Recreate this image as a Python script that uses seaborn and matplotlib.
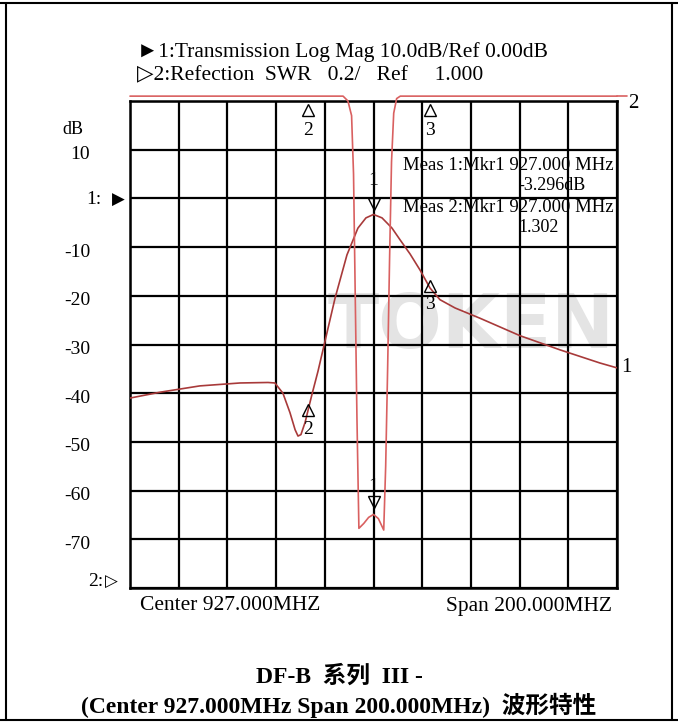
import matplotlib
matplotlib.use("Agg")
import numpy as np
import pandas as pd
import seaborn as sns
import matplotlib.pyplot as plt

# ---------------- data ----------------
# Trace 1: Transmission, Log Mag (dB)
t1_freq = [827.0, 839.3, 855.7, 872.2, 883.7, 886.5, 889.8, 892.7, 894.8, 896.0,
           897.2, 898.9, 901.7, 904.2, 906.3, 911.2, 916.1, 920.6, 923.9, 927.0,
           930.5, 934.6, 937.9, 942.0, 946.1, 950.2, 954.3, 960.5, 970.7, 987.2,
           1003.6, 1020.0, 1027.0]
t1_db = [-41.0, -39.8, -38.5, -37.9, -37.8, -37.9, -40.0, -44.0, -47.5, -48.8,
         -48.5, -46.0, -40.3, -35.5, -31.0, -20.5, -11.6, -6.1, -4.0, -3.3,
         -4.0, -6.1, -8.5, -11.4, -14.7, -18.4, -20.8, -22.5, -24.6, -28.2,
         -31.1, -33.8, -34.8]

# Trace 2: Reflection, SWR (values above 3.0 are shown clipped at the top)
t2_freq = [827.0, 914.5, 916.5, 918.0, 918.8, 919.5, 920.2, 921.0, 923.0, 925.0,
           927.0, 929.0, 931.2, 932.0, 932.8, 933.6, 934.4, 935.3, 936.5, 938.0,
           1027.0]
t2_swr = [3.02, 3.02, 3.00, 2.94, 2.70, 2.20, 1.70, 1.245, 1.265, 1.290,
          1.302, 1.285, 1.238, 1.50, 1.90, 2.35, 2.75, 2.95, 3.01, 3.02,
          3.02]

y_tick_vals = [10, -10, -20, -30, -40, -50, -60, -70]
y_tick_labels = ["10", "-10", "-20", "-30", "-40", "-50", "-60", "-70"]

mkr_freqs = [927.0, 900.0, 950.0]
mkr_labels = ["1", "2", "3"]

header1 = "\u25ba1:Transmission Log Mag 10.0dB/Ref 0.00dB"
header2 = "\u25b72:Refection  SWR   0.2/   Ref     1.000"
meas1 = "Meas 1:Mkr1 927.000 MHz"
meas1_val = "-3.296dB"
meas2 = "Meas 2:Mkr1 927.000 MHz"
meas2_val = "1.302"
center_txt = "Center 927.000MHZ"
span_txt = "Span 200.000MHZ"
title1 = "DF-B  系列  III -"
title2 = "(Center 927.000MHz Span 200.000MHz)  波形特性"

# ---------------- style ----------------
sns.set_style("white")
SERIF = ["Liberation Serif", "DejaVu Sans"]
plt.rcParams["font.family"] = SERIF
plt.rcParams["text.color"] = "black"

W, H = 678, 722
fig = plt.figure(figsize=(W / 100, H / 100), dpi=100)

def ftext(x, y, s, **kw):
    fig.text(x / W, 1 - y / H, s, **kw)

# page frame
for (x0, y0, x1, y1) in [(0, 3, W, 3), (6, 3, 6, 720), (672, 3, 672, 720), (0, 720, W, 720)]:
    fig.add_artist(plt.Line2D([x0 / W, x1 / W], [1 - y0 / H, 1 - y1 / H],
                              color="black", lw=1.5, transform=fig.transFigure))

ax = fig.add_axes([130 / W, 1 - 588 / H, 487 / W, 487 / H])
ax.set_xlim(827, 1027)
ax.set_ylim(-80, 20)
ax.set_xticks(np.arange(827, 1028, 20))
ax.set_yticks(np.arange(-80, 21, 10))
ax.grid(True, color="black", lw=1.6)
ax.tick_params(length=0, labelbottom=False, labelleft=False)
for sp in ax.spines.values():
    sp.set_color("black")
    sp.set_linewidth(1.8)
ax.set_axisbelow(True)

# watermark
ax.text(0.70, 0.535, "TOKEN", transform=ax.transAxes, ha="center", va="center",
        fontsize=54, fontweight="bold", color="#e4e4e4", family="DejaVu Sans", zorder=0)

df1 = pd.DataFrame({"freq": t1_freq, "db": t1_db})
sns.lineplot(data=df1, x="freq", y="db", ax=ax, color="#a83a3a", lw=1.2,
             estimator=None, sort=False, zorder=3)
ax.set_xlabel("")
ax.set_ylabel("")

ax2 = ax.twinx()
ax2.set_ylim(1.0, 3.0)
df2 = pd.DataFrame({"freq": t2_freq, "swr": t2_swr})
sns.lineplot(data=df2, x="freq", y="swr", ax=ax2, color="#d96060", lw=1.2,
             estimator=None, sort=False, clip_on=False, zorder=3)
ax2.set_xlabel("")
ax2.set_ylabel("")
ax2.set_yticks([])
for sp in ax2.spines.values():
    sp.set_visible(False)
ax2.grid(False)
ax2.plot([1027, 1031], [3.02, 3.02], color="#d96060", lw=1.2, clip_on=False)

# markers on trace 1
t1_at = lambda f: float(np.interp(f, t1_freq, t1_db))
ax.plot([mkr_freqs[0]], [t1_at(mkr_freqs[0]) + 2.2], marker="v", ms=9, mfc="none",
        mec="black", mew=1.0, ls="none", zorder=5)
ax.text(mkr_freqs[0], t1_at(mkr_freqs[0]) + 7.0, mkr_labels[0], ha="center", va="center", fontsize=14)
for f, lab in zip(mkr_freqs[1:], mkr_labels[1:]):
    y = t1_at(f)
    ax.plot([f], [y + 0.3], marker="^", ms=9, mfc="none", mec="black", mew=1.0, ls="none", zorder=5)
    ax.text(f, y - 3.6, lab, ha="center", va="center", fontsize=14)

# markers on trace 2
ax2.plot([mkr_freqs[0]], [1.353], marker="v", ms=9, mfc="none", mec="black", mew=1.0, ls="none", zorder=5)
ax2.text(mkr_freqs[0], 1.418, mkr_labels[0], ha="center", va="center", fontsize=14)
for f, lab in zip(mkr_freqs[1:], mkr_labels[1:]):
    ax2.plot([f], [2.965], marker="^", ms=9, mfc="none", mec="black", mew=1.0, ls="none", zorder=5)
    ax2.text(f, 2.88, lab, ha="center", va="center", fontsize=14)

# trace end labels
ftext(633, 104, "2", ha="center", va="center", fontsize=15)
ftext(626, 367, "1", ha="center", va="center", fontsize=15)

# headers
ftext(137, 52, header1, ha="left", va="center", fontsize=15.5, family=SERIF)
ftext(137, 76, header2, ha="left", va="center", fontsize=15.5, family=SERIF)

# left axis labels
ftext(62, 130, "dB", ha="left", va="center", fontsize=13)
for v, lab in zip(y_tick_vals, y_tick_labels):
    ypx = 101 + (20 - v) * 4.87 + 5
    ftext(90, ypx, lab, ha="right", va="center", fontsize=14)
ftext(86, 200, "1:", ha="left", va="center", fontsize=14)
ftext(112, 200, "\u25b6", ha="left", va="center", fontsize=12, family="DejaVu Sans")
ftext(88, 582, "2:", ha="left", va="center", fontsize=14)
ftext(105, 582, "\u25b7", ha="left", va="center", fontsize=12, family="DejaVu Sans")

# measurement readouts
ftext(403, 165, meas1, ha="left", va="center", fontsize=13.5)
ftext(518, 186, meas1_val, ha="left", va="center", fontsize=13)
ftext(403, 207, meas2, ha="left", va="center", fontsize=13.5)
ftext(518, 228, meas2_val, ha="left", va="center", fontsize=13)

# bottom labels
ftext(140, 606, center_txt, ha="left", va="center", fontsize=15.5)
ftext(612, 606, span_txt, ha="right", va="center", fontsize=15.5)

# title
TFAM = ["Liberation Serif", "Noto Sans CJK SC", "DejaVu Sans"]
ftext(339, 677, title1, ha="center", va="center", fontsize=17, fontweight="bold", family=TFAM)
ftext(339, 705, title2, ha="center", va="center", fontsize=17, fontweight="bold", family=TFAM)

fig.savefig("out.png", dpi=100)
